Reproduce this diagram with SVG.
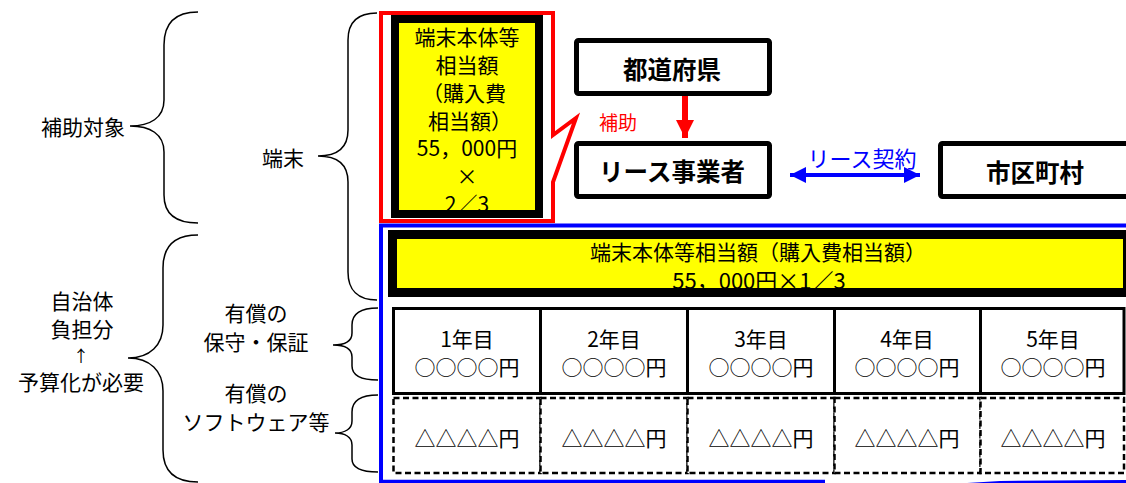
<svg xmlns="http://www.w3.org/2000/svg" width="1126" height="483" viewBox="0 0 1126 483">
<style>
text{font-family:"Noto Sans CJK JP","Noto Sans",sans-serif;fill:#000;text-anchor:middle;dominant-baseline:central}
.t22{font-size:21px}
.b{font-size:24.5px;font-weight:bold}
.brace{fill:none;stroke:#000;stroke-width:1.5}
.node{fill:#fff;stroke:#000;stroke-width:5}
.cell{fill:#fff;stroke:#000;stroke-width:3}
.dcell{fill:#fff;stroke:#000;stroke-width:2.5;stroke-dasharray:6 3.5}
</style>
<defs>
<marker id="redHead" viewBox="0 0 10 10" refX="10" refY="5" markerWidth="3" markerHeight="3" orient="auto" markerUnits="strokeWidth"><path d="M0,0 L10,5 L0,10 Z" fill="#ff0000"/></marker>
<marker id="blueHead" viewBox="0 0 10 10" refX="10" refY="5" markerWidth="4" markerHeight="4.5" orient="auto-start-reverse" markerUnits="strokeWidth"><path d="M0,0 L10,5 L0,10 Z" fill="#0000ff"/></marker>
</defs>
<rect width="1126" height="483" fill="#fff"/>

<g id="braces">
<path class="brace" d="M198,12 C175,12 164,24 164,45 V100 C164,118 150,126 130,126 C150,126 164,134 164,152 V195 C164,214 175,223 198,223"/>
<path class="brace" d="M377,13 C358,13 348,22 348,40 V130 C348,148 338,156 318,156 C338,156 348,164 348,182 V272 C348,290 358,300 377,300"/>
<path class="brace" d="M198,235 C175,235 163,246 163,268 V325 C163,345 150,358 128,358 C150,358 163,371 163,391 V450 C163,471 175,482 198,482"/>
<path class="brace" d="M378,308 C362,308 352,313 352,325 V333 C352,341 345,345 333,345 C345,345 352,349 352,357 V366 C352,376 362,380 378,380"/>
<path class="brace" d="M378,395 C362,395 352,400 352,412 V421 C352,429 345,433 335,433 C345,433 352,437 352,445 V459 C352,468 362,472 378,472"/>
</g>

<g id="labels-left">
<text class="t22" x="83" y="126">補助対象</text>
<text class="t22" x="283" y="157">端末</text>
<text class="t22"><tspan x="82" y="300">自治体</tspan><tspan x="82" y="328">負担分</tspan><tspan x="81" y="355" style="font-size:16px">↑</tspan><tspan x="81" y="381">予算化が必要</tspan></text>
<text class="t22"><tspan x="256" y="312">有償の</tspan><tspan x="256" y="340.5">保守・保証</tspan></text>
<text class="t22"><tspan x="256" y="392">有償の</tspan><tspan x="256" y="420.5">ソフトウェア等</tspan></text>
</g>

<g id="blue-frame">
<path d="M381,483 V225.5 H1126" fill="none" stroke="#0000ff" stroke-width="4"/>
<path d="M380,481.5 H825" stroke="#0000ff" stroke-width="3.5" fill="none"/>
<path d="M967,483 L1000,481 L1126,480 V483 Z" fill="#0000ff"/>
</g>

<g id="callout">
<path d="M381,13 H553 V135 L576,118 L553,182 V221 H381 Z" fill="#fff" stroke="#ff0000" stroke-width="4" stroke-linejoin="miter"/>
</g>

<g id="node-terminal-2-3">
<rect x="395" y="19" width="144" height="195" fill="#ffff00" stroke="#000" stroke-width="8"/>
<text class="t22"><tspan x="467" y="36">端末本体等</tspan><tspan x="467" y="64">相当額</tspan><tspan x="464" y="91.5">（購入費</tspan><tspan x="470" y="119.5">相当額）</tspan><tspan x="467" y="147">55，000円</tspan><tspan x="467" y="174.5">×</tspan><tspan x="467" y="202.5">2／3</tspan></text>
</g>

<g id="node-prefecture">
<rect class="node" x="576.5" y="40.5" width="193" height="53" rx="2"/>
<text class="b" x="672" y="68">都道府県</text>
</g>

<g id="node-lease">
<rect class="node" x="576.5" y="143.5" width="193" height="53" rx="2"/>
<text class="b" x="672" y="170">リース事業者</text>
</g>

<g id="node-municipality">
<rect class="node" x="940.5" y="143.5" width="200" height="53" rx="2"/>
<text class="b" x="1035" y="171">市区町村</text>
</g>

<g id="connectors">
<line x1="685" y1="96" x2="685" y2="138" stroke="#ff0000" stroke-width="6" marker-end="url(#redHead)"/>
<line x1="790" y1="175" x2="920" y2="175" stroke="#0000ff" stroke-width="4" marker-start="url(#blueHead)" marker-end="url(#blueHead)"/>
<text x="618" y="121" style="font-size:19px;fill:#ff0000">補助</text>
<text x="862" y="157" style="font-size:22px;fill:#0000ff">リース契約</text>
</g>

<g id="node-terminal-1-3">
<rect x="392.5" y="234.5" width="735" height="58" fill="#ffff00" stroke="#000" stroke-width="9"/>
<text class="t22"><tspan x="758" y="251">端末本体等相当額（購入費相当額）</tspan><tspan x="759" y="279" style="font-size:22px">55，000円×1／3</tspan></text>
</g>

<g id="row-maintenance">
<rect class="cell" x="393.5" y="308.5" width="147" height="85"/>
<rect class="cell" x="540.5" y="308.5" width="147" height="85"/>
<rect class="cell" x="687.5" y="308.5" width="147" height="85"/>
<rect class="cell" x="834.5" y="308.5" width="146" height="85"/>
<rect class="cell" x="980.5" y="308.5" width="143.5" height="85"/>
<text class="t22"><tspan x="467" y="338">1年目</tspan><tspan x="467" y="366">○○○○円</tspan></text>
<text class="t22"><tspan x="614" y="338">2年目</tspan><tspan x="614" y="366">○○○○円</tspan></text>
<text class="t22"><tspan x="761" y="338">3年目</tspan><tspan x="761" y="366">○○○○円</tspan></text>
<text class="t22"><tspan x="907" y="338">4年目</tspan><tspan x="907" y="366">○○○○円</tspan></text>
<text class="t22"><tspan x="1053" y="338">5年目</tspan><tspan x="1053" y="366">○○○○円</tspan></text>
</g>

<g id="row-software">
<rect class="dcell" x="393.5" y="398" width="147" height="75"/>
<rect class="dcell" x="540.5" y="398" width="147" height="75"/>
<rect class="dcell" x="687.5" y="398" width="147" height="75"/>
<rect class="dcell" x="834.5" y="398" width="146" height="75"/>
<rect class="dcell" x="980.5" y="398" width="143.5" height="75"/>
<text class="t22" x="467" y="437">△△△△円</text>
<text class="t22" x="614" y="437">△△△△円</text>
<text class="t22" x="761" y="437">△△△△円</text>
<text class="t22" x="907" y="437">△△△△円</text>
<text class="t22" x="1053" y="437">△△△△円</text>
</g>
</svg>
